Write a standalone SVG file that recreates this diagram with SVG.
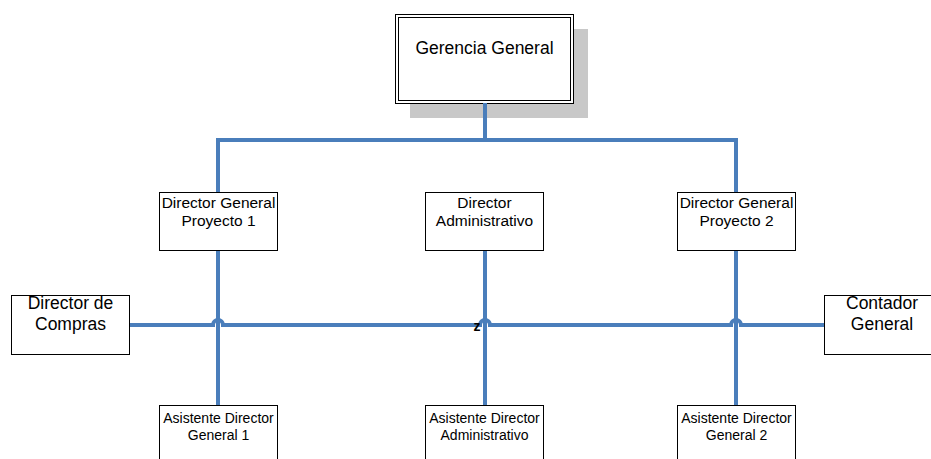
<svg xmlns="http://www.w3.org/2000/svg" width="931" height="459" viewBox="0 0 931 459">
  <style>
    .box { fill: #ffffff; stroke: #000000; stroke-width: 1; }
    .conn { fill: none; stroke: #4A7EBB; stroke-width: 4; }
    text { font-family: "Liberation Sans", Arial, sans-serif; fill: #000000; text-anchor: middle; }
    .t17 { font-size: 17.5px; }
    .t16 { font-size: 17.5px; }
    .t14 { font-size: 15.5px; }
    .t13 { font-size: 14px; }
  </style>

  <!-- top node with shadow and double border -->
  <g id="gerencia-general">
    <rect x="410" y="29" width="178" height="89" fill="#C8C8C8"/>
    <rect class="box" x="395.5" y="14.5" width="178" height="89"/>
    <rect x="398.5" y="17.5" width="172" height="83" fill="none" stroke="#000" stroke-width="1"/>
    <text class="t17" x="484.5" y="54">Gerencia General</text>
  </g>

  <!-- connectors -->
  <g id="connectors">
    <path class="conn" d="M485 103 V140"/>
    <path class="conn" d="M218 192 V140 H736 V192"/>
    <path class="conn" d="M218 250 V405"/>
    <path class="conn" d="M485 250 V405"/>
    <path class="conn" d="M736 250 V405"/>
    <!-- horizontal line with hops over the verticals -->
    <path class="conn" d="M130 325 H213 A5 5 0 0 1 223 325 H480 A5 5 0 0 1 490 325 H731 A5 5 0 0 1 741 325 H824"/>
  </g>

  <g id="director-general-proyecto-1">
    <rect class="box" x="159.5" y="192.5" width="118" height="58"/>
    <text class="t14" x="218.5" y="208">Director General</text>
    <text class="t14" x="218.5" y="226">Proyecto 1</text>
  </g>

  <g id="director-administrativo">
    <rect class="box" x="425.5" y="192.5" width="118" height="58"/>
    <text class="t14" x="484.5" y="208">Director</text>
    <text class="t14" x="484.5" y="226">Administrativo</text>
  </g>

  <g id="director-general-proyecto-2">
    <rect class="box" x="677.5" y="192.5" width="118" height="58"/>
    <text class="t14" x="736.5" y="208">Director General</text>
    <text class="t14" x="736.5" y="226">Proyecto 2</text>
  </g>

  <g id="director-de-compras">
    <rect class="box" x="11.5" y="295.5" width="118" height="59"/>
    <text class="t16" x="70.5" y="309">Director de</text>
    <text class="t16" x="70.5" y="330">Compras</text>
  </g>

  <g id="contador-general">
    <rect class="box" x="824.5" y="295.5" width="118" height="59"/>
    <text class="t16" x="882" y="309">Contador</text>
    <text class="t16" x="882" y="330">General</text>
  </g>

  <text x="477" y="331" font-size="14px" font-weight="bold">z</text>

  <g id="asistente-director-general-1">
    <rect class="box" x="159.5" y="405.5" width="118" height="60"/>
    <text class="t13" x="218.5" y="423">Asistente Director</text>
    <text class="t13" x="218.5" y="440">General 1</text>
  </g>

  <g id="asistente-director-administrativo">
    <rect class="box" x="425.5" y="405.5" width="118" height="60"/>
    <text class="t13" x="484.5" y="423">Asistente Director</text>
    <text class="t13" x="484.5" y="440">Administrativo</text>
  </g>

  <g id="asistente-director-general-2">
    <rect class="box" x="677.5" y="405.5" width="118" height="60"/>
    <text class="t13" x="736.5" y="423">Asistente Director</text>
    <text class="t13" x="736.5" y="440">General 2</text>
  </g>
</svg>
